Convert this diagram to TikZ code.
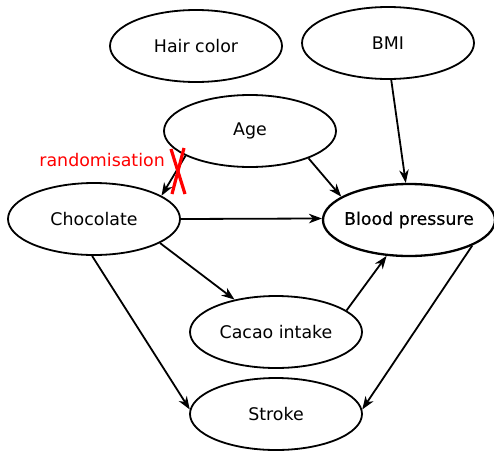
\documentclass[tikz,border=0pt]{standalone}
\usepackage{fontspec}
\setmainfont{DejaVu Sans}
\newfontfamily\heavyfont[FakeBold=0.6]{DejaVu Sans}
\usetikzlibrary{shapes.geometric,arrows.meta}
\begin{document}
\begin{tikzpicture}[x=1pt,y=-1pt,
  every node/.style={font=\fontsize{17.4}{21}\selectfont},
  var/.style={ellipse,draw,line width=1.8pt,minimum width=172pt,minimum height=72pt,inner sep=0pt},
  keyvar/.style={var,line width=2.3pt},
  edge/.style={line width=1.8pt,-{Stealth[length=13pt,width=9.5pt,inset=4pt]}},
  cut/.style={red,line width=3.2pt}]
\useasboundingbox (0,0) rectangle (494,450);

% variables
\node[var] (hair) at (196,46) {\makebox[0pt]{Hair color}};
\node[var] (bmi) at (388,43) {\makebox[0pt]{BMI}};
\node[var] (age) at (250,131) {\makebox[0pt]{\raisebox{-1pt}{Age}}};
\node[var] (choc) at (94,219) {\makebox[0pt]{Chocolate}};
\node[keyvar] (bp) at (409,220) {\makebox[0pt]{\heavyfont Blood pressure}};
\node[var] (cacao) at (276,332) {\makebox[0pt]{Cacao intake}};
\node[var] (stroke) at (276,414) {\makebox[0pt]{Stroke}};

% causal arrows
\draw[edge] (age.201) -- (choc.19);
\draw[edge] (age.-25) -- (bp.161);
\draw[edge] (bmi.-85) -- (bp.95);
\draw[edge] (choc.0) -- (bp.179);
\draw[edge] (choc.-20) -- (cacao.142);
\draw[edge] (choc.-93) -- (stroke.177);
\draw[edge] (cacao.17) -- (bp.238);
\draw[edge] (bp.-22) -- (stroke.3);

% randomisation removes the age -> chocolate arrow
\coordinate (xa) at (171,149);
\coordinate (xb) at (185,194);
\coordinate (xc) at (184,148);
\coordinate (xd) at (172,194);
\draw[cut] (xa) -- (xb);
\draw[cut] (xc) -- (xd);
\node[red,anchor=east,inner sep=0pt] (rand) at (165,160) {randomisation};
\end{tikzpicture}
\end{document}
